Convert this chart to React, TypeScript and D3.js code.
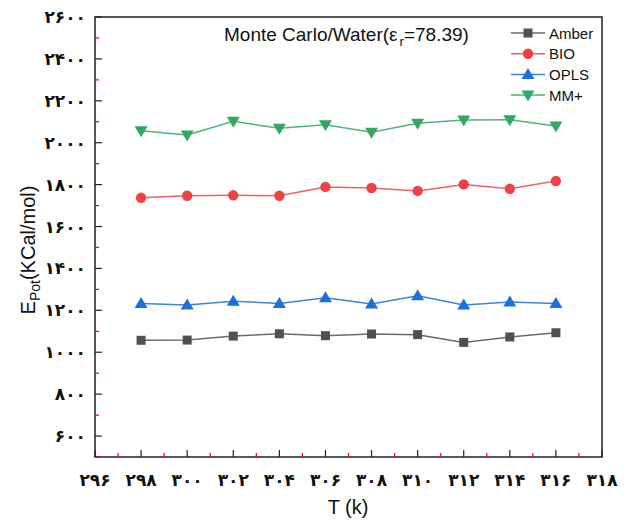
import React from "react";
import { scaleLinear, line } from "d3";

const temps = [298, 300, 302, 304, 306, 308, 310, 312, 314, 316];
const amber = [1057, 1058, 1077, 1088, 1079, 1087, 1084, 1047, 1073, 1093];
const bio = [1737, 1747, 1749, 1747, 1789, 1784, 1770, 1801, 1780, 1817];
const opls = [1233, 1225, 1243, 1233, 1260, 1230, 1270, 1225, 1240, 1233];
const mmplus = [2057, 2037, 2102, 2069, 2086, 2050, 2093, 2108, 2110, 2080];

const xTicks = [296, 298, 300, 302, 304, 306, 308, 310, 312, 314, 316, 318];
const xTickLabels = ["۲۹۶", "۲۹۸", "۳۰۰", "۳۰۲", "۳۰۴", "۳۰۶", "۳۰۸", "۳۱۰", "۳۱۲", "۳۱۴", "۳۱۶", "۳۱۸"];
const yTicks = [600, 800, 1000, 1200, 1400, 1600, 1800, 2000, 2200, 2400, 2600];
const yTickLabels = ["۶۰۰", "۸۰۰", "۱۰۰۰", "۱۲۰۰", "۱۴۰۰", "۱۶۰۰", "۱۸۰۰", "۲۰۰۰", "۲۲۰۰", "۲۴۰۰", "۲۶۰۰"];

const series = [
  { name: "Amber", values: amber, color: "#505050", line: "#6a6a6a", marker: "square" },
  { name: "BIO", values: bio, color: "#ef4146", line: "#f06066", marker: "circle" },
  { name: "OPLS", values: opls, color: "#1d6fdd", line: "#3a82e4", marker: "up" },
  { name: "MM+", values: mmplus, color: "#32a862", line: "#4db577", marker: "down" },
];

const width = 630;
const height = 524;
const left = 95;
const right = 602;
const top = 17;
const bottom = 457;

function Marker({ type, x, y, color }: { type: string; x: number; y: number; color: string }) {
  if (type === "square") return <rect x={x - 4.5} y={y - 4.5} width={9} height={9} fill={color} />;
  if (type === "circle") return <circle cx={x} cy={y} r={5.2} fill={color} />;
  if (type === "up")
    return <path d={`M${x},${y - 6.5} L${x + 6.5},${y + 4.5} L${x - 6.5},${y + 4.5} Z`} fill={color} />;
  return <path d={`M${x},${y + 6.5} L${x + 6.5},${y - 4.5} L${x - 6.5},${y - 4.5} Z`} fill={color} />;
}

export default function App() {
  const x = scaleLinear().domain([296, 318]).range([left, right]);
  const y = scaleLinear().domain([500, 2600]).range([bottom, top]);
  const minorX = xTicks.slice(0, -1).map((t) => t + 1);
  const minorY = [500, 700, 900, 1100, 1300, 1500, 1700, 1900, 2100, 2300, 2500];
  const faFont = "'DejaVu Sans', sans-serif";
  const latin = "'Liberation Sans', Arial, sans-serif";

  return (
    <svg
      width={width}
      height={height}
      style={{ position: "absolute", left: 0, top: 0, background: "#fff" }}
    >
      {/* frame */}
      <rect x={left} y={top} width={right - left} height={bottom - top} fill="none" stroke="#222" strokeWidth={1.5} />

      {/* ticks */}
      {xTicks.map((t) => (
        <line key={"xt" + t} x1={x(t)} x2={x(t)} y1={bottom} y2={bottom - 7} stroke="#222" strokeWidth={1.2} />
      ))}
      {minorX.map((t) => (
        <line key={"xm" + t} x1={x(t)} x2={x(t)} y1={bottom} y2={bottom - 4} stroke="#e00" strokeWidth={1.2} />
      ))}
      {yTicks.map((t) => (
        <line key={"yt" + t} x1={left} x2={left + 7} y1={y(t)} y2={y(t)} stroke="#222" strokeWidth={1.2} />
      ))}
      {minorY.map((t) => (
        <line key={"ym" + t} x1={left} x2={left + 4} y1={y(t)} y2={y(t)} stroke="#e00" strokeWidth={1.2} />
      ))}

      {/* tick labels */}
      {xTicks.map((t, i) => (
        <text key={"xl" + t} x={x(t)} y={480} textAnchor="middle" dominantBaseline="central"
          fontFamily={faFont} fontWeight="bold" fontSize={17} fill="#111">
          {xTickLabels[i]}
        </text>
      ))}
      {yTicks.map((t, i) => (
        <text key={"yl" + t} x={86} y={y(t)} textAnchor="end" dominantBaseline="central"
          fontFamily={faFont} fontWeight="bold" fontSize={17} fill="#111">
          {yTickLabels[i]}
        </text>
      ))}

      {/* axis titles */}
      <text x={348} y={514} textAnchor="middle" fontFamily={latin} fontSize={20} fill="#111">T (k)</text>
      <text transform="translate(35,250) rotate(-90)" textAnchor="middle" fontFamily={latin} fontSize={20} fill="#111">
        E<tspan fontSize={14} dy={5}>Pot</tspan><tspan dy={-5}>(KCal/mol)</tspan>
      </text>

      {/* series */}
      {series.map((s) => {
        const path = line<number>()
          .x((_, i) => x(temps[i]))
          .y((d) => y(d))(s.values);
        return (
          <g key={s.name}>
            <path d={path || ""} fill="none" stroke={s.line} strokeWidth={1.5} />
            {s.values.map((v, i) => (
              <Marker key={i} type={s.marker} x={x(temps[i])} y={y(v)} color={s.color} />
            ))}
          </g>
        );
      })}

      {/* annotation */}
      <text x={224} y={41} fontFamily={latin} fontSize={19} fill="#111">
        Monte Carlo/Water(ε<tspan fontSize={13} dx={2} dy={5}>r</tspan><tspan dy={-5}>=78.39)</tspan>
      </text>

      {/* legend */}
      {series.map((s, i) => {
        const ly = 33 + i * 20.7;
        return (
          <g key={"lg" + s.name}>
            <line x1={511} x2={545} y1={ly} y2={ly} stroke={s.line} strokeWidth={1.5} />
            <Marker type={s.marker} x={528} y={ly} color={s.color} />
            <text x={549} y={ly} dominantBaseline="central" fontFamily={latin} fontSize={15} fill="#111">
              {s.name}
            </text>
          </g>
        );
      })}
    </svg>
  );
}
